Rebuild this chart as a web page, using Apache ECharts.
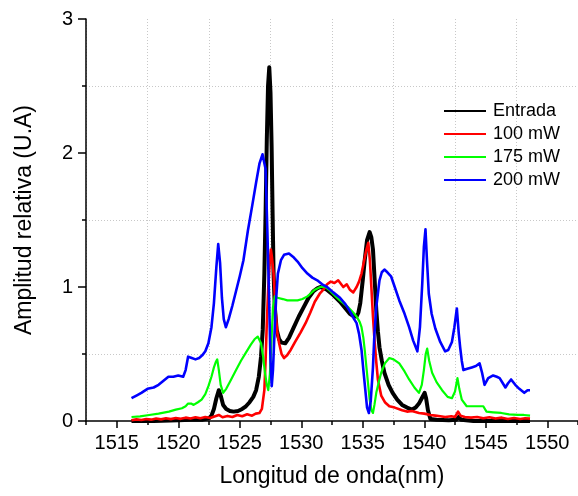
<!DOCTYPE html>
<html>
<head>
<meta charset="utf-8">
<script src="https://cdn.jsdelivr.net/npm/echarts@6/dist/echarts.min.js"></script>
<style>
  html, body { margin: 0; padding: 0; background: #fff; }
  #chart { width: 578px; height: 496px; }
</style>
</head>
<body>
<div id="chart"></div>
<script>
// Spectra: [wavelength (nm), relative amplitude]
const seriesNames = ['Entrada', '100 mW', '175 mW', '200 mW'];

const entrada = [
  [1516.2,0.0],[1518,0.0],[1520,0.005],[1521,0.01],[1522,0.01],[1522.5,0.02],[1522.7,0.04],[1522.9,0.09],
  [1523.1,0.17],[1523.3,0.23],[1523.45,0.19],[1523.65,0.12],[1523.9,0.09],[1524.2,0.075],[1524.5,0.07],
  [1524.86,0.075],[1525.2,0.09],[1525.5,0.11],[1525.8,0.14],[1526.1,0.18],[1526.33,0.23],[1526.55,0.33],
  [1526.73,0.48],[1526.87,0.68],[1527.0,1.10],[1527.1,1.55],[1527.2,2.10],[1527.3,2.50],[1527.4,2.64],
  [1527.5,2.45],[1527.59,2.05],[1527.67,1.55],[1527.75,1.10],[1527.85,0.85],[1528.0,0.68],[1528.2,0.61],
  [1528.4,0.585],[1528.7,0.58],[1529.0,0.62],[1529.4,0.70],[1529.8,0.78],[1530.2,0.85],[1530.6,0.92],
  [1531.0,0.97],[1531.3,0.99],[1531.55,1.0],[1532.08,0.98],[1532.6,0.94],[1533.15,0.89],[1533.6,0.84],
  [1533.95,0.80],[1534.3,0.78],[1534.5,0.78],[1534.65,0.81],[1534.8,0.88],[1535.0,1.05],[1535.16,1.20],
  [1535.35,1.35],[1535.56,1.41],[1535.7,1.37],[1535.83,1.28],[1535.97,1.05],[1536.1,0.83],[1536.23,0.67],
  [1536.36,0.55],[1536.55,0.45],[1536.76,0.36],[1537.1,0.27],[1537.43,0.21],[1537.8,0.16],[1538.2,0.12],
  [1538.6,0.10],[1539.0,0.085],[1539.3,0.10],[1539.57,0.13],[1539.8,0.17],[1540.03,0.21],[1540.15,0.17],
  [1540.3,0.08],[1540.5,0.015],[1541,0.01],[1542,0.005],[1542.6,0.01],[1542.8,0.03],[1543.0,0.01],
  [1544,0.0],[1546,0.0],[1548.6,0.0]
];

const p100 = [
  [1516.2,0.005],[1516.6,0.012],[1517.0,0.008],[1517.4,0.015],[1517.8,0.01],[1518.2,0.018],[1518.6,0.012],
  [1519.0,0.02],[1519.4,0.014],[1519.8,0.022],[1520.2,0.016],[1520.6,0.025],[1521.0,0.018],[1521.4,0.028],
  [1521.8,0.02],[1522.2,0.03],[1522.6,0.022],[1523.0,0.035],[1523.3,0.045],[1523.6,0.028],[1524.0,0.038],
  [1524.4,0.03],[1524.8,0.045],[1525.2,0.035],[1525.6,0.05],[1526.0,0.04],[1526.3,0.055],[1526.6,0.06],
  [1526.8,0.09],[1527.0,0.23],[1527.1,0.45],[1527.2,0.73],[1527.32,1.0],[1527.45,1.20],[1527.53,1.28],
  [1527.62,1.22],[1527.75,1.10],[1527.93,0.80],[1528.05,0.66],[1528.2,0.58],[1528.4,0.50],[1528.6,0.47],
  [1528.85,0.49],[1529.14,0.53],[1529.5,0.59],[1529.94,0.66],[1530.35,0.73],[1530.74,0.81],[1531.1,0.89],
  [1531.5,0.95],[1531.8,0.98],[1532.1,1.02],[1532.4,1.04],[1532.7,1.03],[1533.0,1.05],[1533.42,1.0],
  [1533.7,1.02],[1533.95,0.98],[1534.23,0.96],[1534.5,1.0],[1534.7,1.04],[1534.9,1.10],[1535.1,1.19],
  [1535.3,1.28],[1535.45,1.33],[1535.58,1.20],[1535.7,1.0],[1535.83,0.78],[1535.96,0.60],[1536.1,0.44],
  [1536.23,0.31],[1536.5,0.19],[1536.8,0.14],[1537.16,0.11],[1537.6,0.10],[1538.2,0.08],[1538.6,0.07],
  [1539.0,0.075],[1539.57,0.06],[1540.0,0.055],[1540.5,0.045],[1540.9,0.04],[1541.3,0.035],[1541.7,0.03],
  [1542.2,0.035],[1542.5,0.03],[1542.75,0.07],[1542.95,0.04],[1543.3,0.03],[1543.8,0.025],[1544.3,0.03],
  [1544.8,0.02],[1545.3,0.028],[1545.8,0.018],[1546.3,0.025],[1546.8,0.015],[1547.3,0.022],[1547.8,0.015],
  [1548.2,0.02],[1548.6,0.018]
];

const p175 = [
  [1516.2,0.03],[1516.9,0.035],[1517.64,0.045],[1518.4,0.055],[1519.24,0.07],[1519.8,0.085],[1520.3,0.095],
  [1520.6,0.11],[1520.8,0.13],[1521.05,0.13],[1521.25,0.12],[1521.6,0.14],[1521.9,0.16],[1522.2,0.20],
  [1522.45,0.26],[1522.7,0.33],[1522.9,0.40],[1523.05,0.44],[1523.17,0.46],[1523.3,0.38],[1523.45,0.27],
  [1523.65,0.21],[1523.9,0.24],[1524.3,0.31],[1524.7,0.38],[1525.1,0.45],[1525.5,0.51],[1525.9,0.57],
  [1526.2,0.61],[1526.46,0.63],[1526.73,0.58],[1526.9,0.48],[1527.05,0.36],[1527.2,0.27],[1527.32,0.23],
  [1527.45,0.35],[1527.58,0.60],[1527.7,0.85],[1527.85,0.93],[1528.07,0.92],[1528.5,0.91],[1528.87,0.90],
  [1529.4,0.90],[1529.7,0.90],[1530.1,0.91],[1530.5,0.93],[1530.74,0.95],[1531.1,0.98],[1531.55,1.0],
  [1531.95,1.0],[1532.35,0.97],[1532.8,0.93],[1533.15,0.90],[1533.42,0.88],[1533.8,0.85],[1534.22,0.81],
  [1534.5,0.78],[1534.75,0.74],[1534.9,0.70],[1535.05,0.62],[1535.16,0.53],[1535.3,0.40],[1535.43,0.28],
  [1535.55,0.17],[1535.7,0.08],[1535.83,0.06],[1535.95,0.12],[1536.1,0.21],[1536.3,0.29],[1536.5,0.36],
  [1536.8,0.43],[1537.16,0.47],[1537.5,0.46],[1537.97,0.43],[1538.4,0.37],[1538.77,0.31],[1539.2,0.25],
  [1539.57,0.21],[1539.8,0.27],[1539.97,0.38],[1540.12,0.50],[1540.24,0.54],[1540.4,0.45],[1540.64,0.36],
  [1541.0,0.29],[1541.45,0.23],[1541.9,0.18],[1542.25,0.17],[1542.5,0.22],[1542.7,0.32],[1542.85,0.24],
  [1543.05,0.16],[1543.45,0.11],[1544.0,0.11],[1544.5,0.11],[1544.8,0.11],[1545.06,0.07],[1545.6,0.065],
  [1546.26,0.06],[1546.9,0.05],[1547.6,0.045],[1548.1,0.045],[1548.6,0.04]
];

const p200 = [
  [1516.2,0.17],[1516.6,0.19],[1517.0,0.21],[1517.5,0.24],[1518.0,0.25],[1518.4,0.27],[1518.8,0.30],
  [1519.2,0.33],[1519.6,0.33],[1520.0,0.34],[1520.4,0.33],[1520.6,0.38],[1520.8,0.48],[1521.1,0.47],
  [1521.4,0.46],[1521.7,0.47],[1521.95,0.49],[1522.2,0.52],[1522.45,0.58],[1522.7,0.70],[1522.9,0.88],
  [1523.1,1.15],[1523.25,1.32],[1523.4,1.18],[1523.55,0.92],[1523.7,0.76],[1523.87,0.70],[1524.1,0.76],
  [1524.4,0.86],[1524.7,0.97],[1525.0,1.08],[1525.3,1.20],[1525.66,1.42],[1526.0,1.60],[1526.33,1.78],
  [1526.6,1.92],[1526.85,1.99],[1526.95,2.0],[1527.1,1.88],[1527.25,1.40],[1527.4,0.86],[1527.5,0.45],
  [1527.6,0.26],[1527.7,0.38],[1527.8,0.60],[1527.95,0.90],[1528.1,1.10],[1528.35,1.20],[1528.6,1.24],
  [1529.0,1.25],[1529.4,1.22],[1529.7,1.19],[1530.1,1.14],[1530.5,1.10],[1530.9,1.07],[1531.3,1.05],
  [1531.7,1.02],[1532.1,1.0],[1532.6,0.96],[1533.15,0.92],[1533.6,0.87],[1533.95,0.82],[1534.3,0.76],
  [1534.5,0.73],[1534.7,0.65],[1534.9,0.53],[1535.05,0.38],[1535.2,0.24],[1535.35,0.10],[1535.5,0.06],
  [1535.65,0.15],[1535.83,0.40],[1535.95,0.65],[1536.1,0.85],[1536.36,1.05],[1536.55,1.11],[1536.76,1.13],
  [1537.0,1.11],[1537.3,1.08],[1537.6,1.0],[1537.97,0.90],[1538.4,0.80],[1538.77,0.70],[1539.1,0.60],
  [1539.44,0.52],[1539.65,0.70],[1539.84,1.03],[1539.97,1.30],[1540.1,1.43],[1540.22,1.20],[1540.37,0.95],
  [1540.6,0.80],[1540.9,0.69],[1541.3,0.59],[1541.7,0.52],[1541.95,0.53],[1542.25,0.59],[1542.45,0.70],
  [1542.65,0.84],[1542.8,0.66],[1542.92,0.55],[1543.05,0.45],[1543.18,0.38],[1543.5,0.39],[1543.86,0.40],
  [1544.2,0.41],[1544.5,0.43],[1544.7,0.36],[1544.9,0.27],[1545.2,0.32],[1545.6,0.34],[1545.9,0.33],
  [1546.13,0.32],[1546.4,0.28],[1546.6,0.25],[1546.8,0.28],[1547.06,0.31],[1547.4,0.27],[1547.73,0.24],
  [1548.13,0.21],[1548.4,0.23],[1548.6,0.23]
];

// Axis ticks
const xTickLabels = [1515, 1520, 1525, 1530, 1535, 1540, 1545, 1550];
const yTickLabels = [0, 1, 2, 3];

const FONT = 'Liberation Sans, Arial, Helvetica, sans-serif';
const colors = ['#000000', '#ff0000', '#00ff00', '#0000ff'];
const widths = [4, 2.6, 2.2, 2.6];
const seriesData = [entrada, p100, p175, p200];

const chart = echarts.init(document.getElementById('chart'), null, { renderer: 'canvas' });

const option = {
  animation: false,
  backgroundColor: '#ffffff',
  textStyle: { fontFamily: FONT },
  grid: { left: 86, top: 19, right: -6, bottom: 75, containLabel: false },
  legend: {
    data: seriesNames,
    orient: 'vertical',
    left: 443,
    top: 102,
    padding: 0,
    itemWidth: 42,
    itemHeight: 14,
    itemGap: 5,
    itemStyle: { opacity: 0 },
    textStyle: { fontSize: 18, color: '#000', fontFamily: FONT, padding: [0, 0, 0, 2] },
    selectedMode: false
  },
  xAxis: [
    {
      type: 'value',
      min: 1512.5,
      max: 1552.5,
      interval: 2.5,
      name: 'Longitud de onda(nm)',
      nameLocation: 'middle',
      nameGap: 44,
      nameTextStyle: { fontSize: 23, color: '#000', fontFamily: FONT },
      axisLine: { show: true, onZero: false, lineStyle: { color: '#000', width: 1.5 } },
      axisTick: { show: true, inside: false, length: 7, customValues: xTickLabels, lineStyle: { color: '#000', width: 1.5 } },
      axisLabel: {
        show: true, customValues: xTickLabels, margin: 12, fontSize: 20, color: '#000', fontFamily: FONT,
        formatter: v => String(v)
      },
      splitLine: { show: false }
    },
    {
      // minor ticks and dotted grid at the half-way marks
      type: 'value',
      position: 'bottom',
      min: 0,
      max: 40,
      interval: 5,
      axisLine: { show: false },
      axisTick: { show: true, inside: false, length: 4, lineStyle: { color: '#000', width: 1.5 } },
      axisLabel: { show: false },
      splitLine: { show: true, lineStyle: { color: '#c8c8c8', width: 1, type: [1, 2] } }
    }
  ],
  yAxis: {
    type: 'value',
    min: 0,
    max: 3,
    interval: 1,
    name: 'Amplitud relativa (U.A)',
    nameLocation: 'middle',
    nameGap: 50,
    nameTextStyle: { fontSize: 23, color: '#000', fontFamily: FONT },
    axisLine: { show: true, onZero: false, lineStyle: { color: '#000', width: 1.5 } },
    axisTick: { show: true, inside: false, length: 8, lineStyle: { color: '#000', width: 1.5 } },
    minorTick: { show: true, splitNumber: 2, length: 4, lineStyle: { color: '#000', width: 1.5 } },
    minorSplitLine: { show: true, lineStyle: { color: '#c8c8c8', width: 1, type: [1, 2] } },
    axisLabel: { margin: 13, fontSize: 20, color: '#000', fontFamily: FONT },
    splitLine: { show: false }
  },
  series: seriesNames.map((name, i) => ({
    name: name,
    type: 'line',
    xAxisIndex: 0,
    data: seriesData[i],
    showSymbol: false,
    symbol: 'none',
    lineStyle: { color: colors[i], width: widths[i], join: 'round' },
    itemStyle: { color: colors[i] },
    z: 2 + i
  }))
};

chart.setOption(option);
</script>
</body>
</html>
